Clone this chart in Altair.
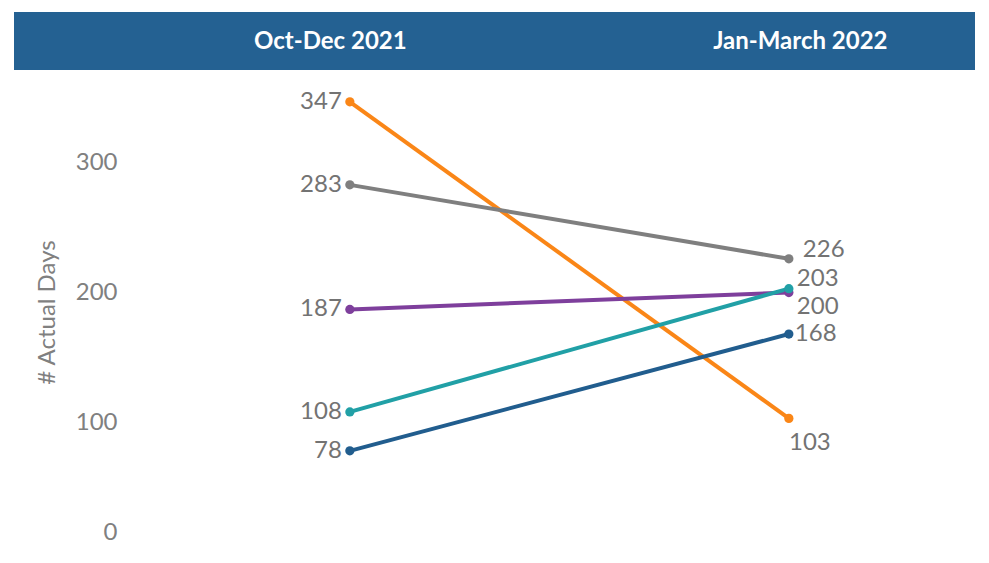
import altair as alt
import pandas as pd

periods = ["Oct-Dec 2021", "Jan-March 2022"]
series = ["Orange", "Gray", "Purple", "Teal", "Navy"]
start_values = [347, 283, 187, 108, 78]
end_values = [103, 226, 200, 203, 168]
colors = ["#FA8617", "#7F7F7F", "#7E3F9C", "#21A0A6", "#215D8E"]

rows = []
for s, a, b in zip(series, start_values, end_values):
    rows.append({"series": s, "period": 0, "value": a})
    rows.append({"series": s, "period": 1, "value": b})
df = pd.DataFrame(rows)

FONT = "Lato"
TEXT_GRAY = "#737373"
W, H = 961, 480

label_expr = "datum.value === 0 ? '%s' : '%s'" % (periods[0], periods[1])

x = alt.X(
    "period:Q",
    scale=alt.Scale(domain=[-0.765, 1.424], nice=False, zero=False),
    axis=alt.Axis(
        orient="top",
        values=[0, 1],
        labelExpr=label_expr,
        title=None,
        grid=False,
        ticks=False,
        tickSize=0,
        domain=False,
        offset=31,
        labelPadding=0,
        labelBaseline="middle",
        labelColor="white",
        labelFont=FONT,
        labelFontWeight="bold",
        labelFontSize=24,
        labelFlush=False,
        zindex=2,
        labelOffset={"condition": {"test": "datum.value === 0", "value": -20}, "value": 11},
    ),
)

y = alt.Y(
    "value:Q",
    scale=alt.Scale(domain=[0, 370], nice=False),
    axis=alt.Axis(
        values=[0, 100, 200, 300],
        title="# Actual Days",
        titleFont=FONT,
        titleFontSize=24,
        titleFontWeight="normal",
        titleColor="#808080",
        titlePadding=16,
        grid=False,
        ticks=False,
        tickSize=0,
        domain=False,
        offset=-110,
        labelPadding=7,
        labelFont=FONT,
        labelFontSize=24,
        labelColor="#808080",
        labelOffset={"condition": {"test": "datum.value === 0", "value": -20}, "value": 0},
    ),
)

color = alt.Color("series:N", scale=alt.Scale(domain=series, range=colors), legend=None)

base = alt.Chart(df).encode(x=x, y=y)

band = alt.Chart(pd.DataFrame({"band": [0]})).mark_rect(color="#246192").encode(
    x=alt.value(0), x2=alt.value(W), y=alt.value(-60), y2=alt.value(-2)
)

lines = base.mark_line(strokeWidth=4).encode(color=color, detail="series:N")
points = base.mark_circle(size=85, opacity=1).encode(color=color)

def txt(filt, **kw):
    params = dict(font=FONT, fontSize=24, color=TEXT_GRAY, baseline="middle")
    params.update(kw)
    return base.transform_filter(filt).mark_text(**params).encode(text="value:Q")

left_labels = txt("datum.period === 0", align="right", dx=-8)
r_gray = txt("datum.period === 1 && datum.series === 'Gray'", align="left", dx=14, dy=-9)
r_teal = txt("datum.period === 1 && datum.series === 'Teal'", align="left", dx=8, dy=-10)
r_purple = txt("datum.period === 1 && datum.series === 'Purple'", align="left", dx=8, dy=14)
r_navy = txt("datum.period === 1 && datum.series === 'Navy'", align="left", dx=6, dy=0)
r_orange = txt("datum.period === 1 && datum.series === 'Orange'", align="center", dx=21, dy=25)

chart = alt.layer(
    band, lines, points, left_labels, r_gray, r_teal, r_purple, r_navy, r_orange
).properties(
    width=W,
    height=H,
    padding={"left": 6, "top": 4, "right": 0, "bottom": 0},
    background="white",
).configure_view(stroke=None)

chart.save("out.html", embed_options={"renderer": "svg", "actions": False})
